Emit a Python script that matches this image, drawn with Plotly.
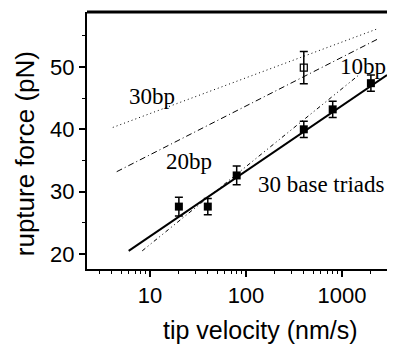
import plotly.graph_objects as go
import math

# data
velocity = [20, 40, 80, 400, 800, 2000]
force = [27.6, 27.6, 32.6, 40.0, 43.2, 47.4]
force_err = [1.5, 1.3, 1.5, 1.3, 1.3, 1.3]

open_velocity = [400]
open_force = [49.9]
open_err = [2.6]

fit_x = [6.0, 2940]
fit_y = [20.5, 48.7]

bp10_x = [8.3, 1550]
bp10_y = [20.5, 48.9]
bp20_x = [4.5, 2370]
bp20_y = [33.2, 54.5]
bp30_x = [4.1, 2320]
bp30_y = [40.3, 56.1]

labels = ["30bp", "20bp", "10bp", "30 base triads"]
label_x = [10.5, 25.5, 1660, 617]
label_y = [45.3, 34.8, 50.0, 31.1]

x_title = "tip velocity (nm/s)"
y_title = "rupture force (pN)"

fig = go.Figure()
fig.add_trace(go.Scatter(x=bp30_x, y=bp30_y, mode="lines",
                         line=dict(color="black", width=1, dash="1px,3px")))
fig.add_trace(go.Scatter(x=bp20_x, y=bp20_y, mode="lines",
                         line=dict(color="black", width=1, dash="6px,3px,1px,3px")))
fig.add_trace(go.Scatter(x=bp10_x, y=bp10_y, mode="lines",
                         line=dict(color="black", width=1, dash="4px,3px,1px,3px,1px,3px")))
fig.add_trace(go.Scatter(x=fit_x, y=fit_y, mode="lines",
                         line=dict(color="black", width=2)))
fig.add_trace(go.Scatter(x=velocity, y=force, mode="markers",
                         marker=dict(symbol="square", size=8, color="black"),
                         error_y=dict(type="data", array=force_err, color="black",
                                      thickness=1.5, width=4)))
fig.add_trace(go.Scatter(x=open_velocity, y=open_force, mode="markers",
                         marker=dict(symbol="square-open", size=7, color="black",
                                     line=dict(width=1.2)),
                         error_y=dict(type="data", array=open_err, color="black",
                                      thickness=1.5, width=4)))

for t, x, y in zip(labels, label_x, label_y):
    fig.add_annotation(x=math.log10(x), y=y, text=t, showarrow=False,
                       xanchor="center", yanchor="middle",
                       font=dict(family="Liberation Serif", size=23, color="black"))

# axis titles
fig.add_annotation(xref="paper", yref="paper", x=0.562, y=-0.237, text=x_title,
                   showarrow=False, xanchor="center", yanchor="middle",
                   font=dict(family="Liberation Sans", size=25, color="black"))
fig.add_annotation(xref="paper", yref="paper", x=-0.201, y=0.447, text=y_title,
                   showarrow=False, xanchor="center", yanchor="middle", textangle=-90,
                   font=dict(family="Liberation Sans", size=26, color="black"))

# top frame line
fig.add_shape(type="line", xref="paper", yref="paper", x0=0, x1=1, y0=1, y1=1,
              line=dict(color="black", width=3))

fig.update_layout(
    width=387, height=337,
    margin=dict(l=79, r=0, t=4, b=76),
    plot_bgcolor="white", paper_bgcolor="white",
    showlegend=False,
    font=dict(family="Liberation Sans", color="black"),
    xaxis=dict(type="log", range=[0.344, 3.552], automargin=False,
               showgrid=False, zeroline=False,
               showline=True, linecolor="black", linewidth=2,
               ticks="outside", ticklen=6, tickwidth=1.5, tickcolor="black",
               tickvals=[10, 100, 1000], ticktext=["10", "100", "1000"],
               tickfont=dict(size=22),
               minor=dict(ticks="outside", ticklen=3, tickwidth=1, tickcolor="black",
                          tickvals=[3, 4, 5, 6, 7, 8, 9, 20, 30, 40, 50, 60, 70, 80, 90,
                                    200, 300, 400, 500, 600, 700, 800, 900, 2000, 3000],
                          showgrid=False)),
    yaxis=dict(range=[17.59, 58.82], automargin=False,
               showgrid=False, zeroline=False,
               showline=True, linecolor="black", linewidth=2,
               ticks="outside", ticklen=6, tickwidth=1.5, tickcolor="black",
               tickvals=[20, 30, 40, 50],
               tickfont=dict(size=22),
               minor=dict(ticks="outside", ticklen=3, tickwidth=1, tickcolor="black",
                          tickvals=[25, 35, 45, 55], showgrid=False)),
)

fig.write_html("out.html")
